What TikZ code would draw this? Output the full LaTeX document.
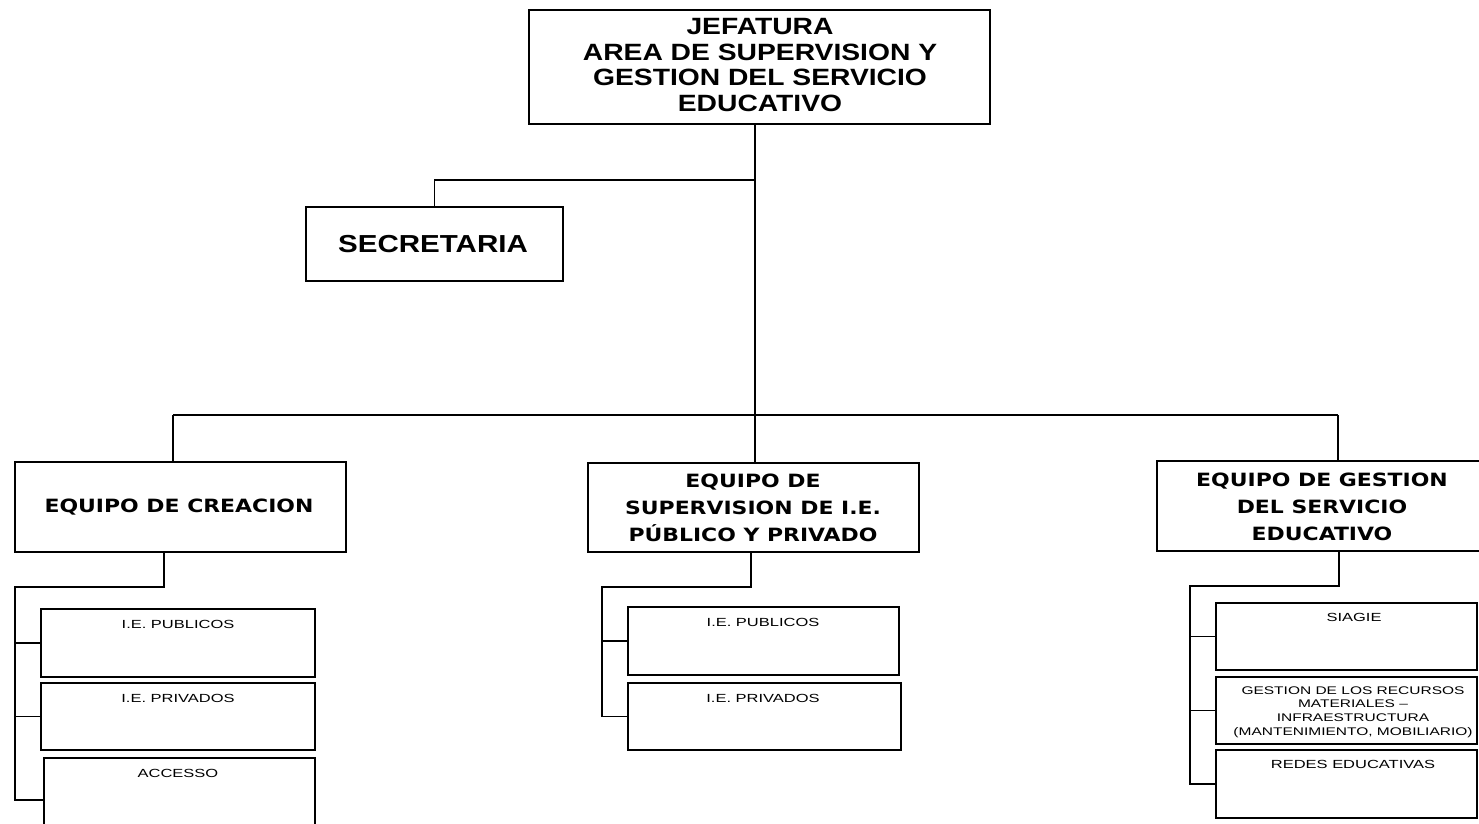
\documentclass[tikz,border=0pt]{standalone}
\usepackage{fontspec}
\setmainfont{Liberation Sans}
\newfontfamily\topfont{Liberation Sans}[FakeStretch=1.2]
\newfontfamily\eqfont{DejaVu Sans}[FakeStretch=1.2]
\newfontfamily\subfont{Liberation Sans}[FakeStretch=1.4]
\usetikzlibrary{fit}
\begin{document}
\begin{tikzpicture}[x=0.02cm,y=-0.02cm,
  box/.style={draw=black,line width=1pt,inner sep=0pt},
  toptxt/.style={font=\topfont\bfseries\fontsize{13.4}{14.5}\selectfont,align=center,inner sep=0pt},
  sectxt/.style={font=\topfont\bfseries\fontsize{14}{16}\selectfont,align=center,inner sep=0pt},
  eqtxt/.style={font=\eqfont\bfseries\fontsize{10.4}{15.3}\selectfont,align=center,inner sep=0pt},
  subtxt/.style={font=\subfont\fontsize{6.7}{7.9}\selectfont,align=center,inner sep=0pt,anchor=north},
  conn/.style={draw=black,line width=1pt}]
\useasboundingbox[fill=white] (0,0) rectangle (1479,823);

% boxes
\node[box,fit={(529,10)(990,124)}] (jef) {};
\node[toptxt] (jeft) at (760,65) {JEFATURA\\AREA DE SUPERVISION Y\\GESTION DEL SERVICIO\\EDUCATIVO};
\node[box,fit={(306,207)(563,281)}] (sec) {};
\node[sectxt] (sect) at (433,244) {SECRETARIA};
\node[box,fit={(15,462)(346,552)}] (crea) {};
\node[eqtxt] (creat) at (179,507) {EQUIPO DE CREACION};
\node[box,fit={(588,463)(919,552)}] (sup) {};
\node[eqtxt] (supt) at (753,508) {EQUIPO DE\\SUPERVISION DE I.E.\\PÚBLICO Y PRIVADO};
\node[box,fit={(1157,461)(1495,551)}] (ges) {};
\node[eqtxt] (gestxt) at (1322,507) {EQUIPO DE GESTION\\DEL SERVICIO\\EDUCATIVO};

% left sub boxes
\node[box,fit={(41,609)(315,677)}] (cpub) {};
\node[box,fit={(41,683)(315,750)}] (cpri) {};
\node[box,fit={(44,758)(315,835)}] (cacc) {};
\node[subtxt] (cpubt) at (178,620) {I.E. PUBLICOS};
\node[subtxt] (cprit) at (178,694) {I.E. PRIVADOS};
\node[subtxt] (cacct) at (178,769) {ACCESSO};

% middle sub boxes
\node[box,fit={(628,607)(899,675)}] (mpub) {};
\node[box,fit={(628,683)(901,750)}] (mpri) {};
\node[subtxt] (mpubt) at (763,618) {I.E. PUBLICOS};
\node[subtxt] (mprit) at (763,694) {I.E. PRIVADOS};

% right sub boxes
\node[box,fit={(1216,603)(1477,670)}] (rsia) {};
\node[box,fit={(1216,677)(1477,744)}] (rrec) {};
\node[box,fit={(1216,750)(1477,818)}] (rred) {};
\node[subtxt] (rsiat) at (1354,613) {SIAGIE};
\node[subtxt,font=\subfont\fontsize{6.3}{7.9}\selectfont] (rrect) at (1353,686) {GESTION DE LOS RECURSOS\\MATERIALES –\\INFRAESTRUCTURA\\(MANTENIMIENTO, MOBILIARIO)};
\node[subtxt] (rredt) at (1353,760) {REDES EDUCATIVAS};

% connectors from top
\coordinate (tx) at (755,0);
\coordinate (sy) at (0,180);
\coordinate (b1) at (173,415);
\coordinate (b2) at (755,415);
\coordinate (b3) at (1338,415);
\draw[conn] (jef.south -| tx) -- (b2);
\draw[conn] (sy -| tx) -| (sec.north);
\draw[conn] (b1) -- (b3);
\draw[conn] (b1) -- (b1 |- crea.north);
\draw[conn] (b2) -- (b2 |- sup.north);
\draw[conn] (b3) -- (b3 |- ges.north);

% left branch
\coordinate (cx) at (164,0);
\coordinate (cl) at (15,587);
\draw[conn] (crea.south -| cx) |- (cl) |- (cpub.west);
\draw[conn] (cl) |- (cpri.west);
\draw[conn] (cl) |- ([yshift=-2pt]cacc.west);

% middle branch
\coordinate (mx) at (751,0);
\coordinate (ml) at (602,587);
\draw[conn] (sup.south -| mx) |- (ml) |- (mpub.west);
\draw[conn] (ml) |- (mpri.west);

% right branch
\coordinate (rx) at (1339,0);
\coordinate (rl) at (1190,586);
\draw[conn] (ges.south -| rx) |- (rl) |- (rsia.west);
\draw[conn] (rl) |- (rrec.west);
\draw[conn] (rl) |- (rred.west);
\end{tikzpicture}
\end{document}
